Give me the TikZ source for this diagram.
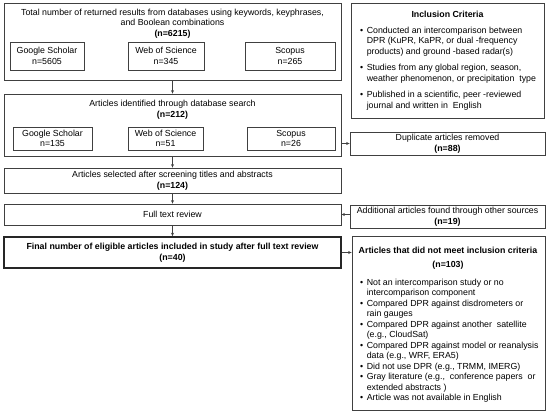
\documentclass[tikz,border=0pt]{standalone}
\usepackage{fontspec}
\setmainfont{Liberation Sans}
\usetikzlibrary{arrows.meta}
\begin{document}
\begin{tikzpicture}[x=1pt,y=-1pt,
  every node/.style={font=\fontsize{8.8}{10.6}\selectfont, inner sep=0pt, text=black},
  box/.style={draw=black!75, line width=0.8pt},
  sbox/.style={box, align=center, minimum height=23pt},
  thickbox/.style={draw=black!85, line width=1.6pt},
  arr/.style={-{Stealth[length=3.5pt,width=3pt]}, line width=0.6pt, draw=black!75}]
\useasboundingbox (0,0) rectangle (550,415);
% left column
\node[box, minimum width=337pt, minimum height=77pt] (b1) at (172.5,41.5) {};
\node[align=center] (t1) at (172.5,23.5) {Total number of returned results from databases using keywords, keyphrases,\\ and Boolean combinations\\ \textbf{(n=6215)}};
\node[sbox, minimum width=74pt, minimum height=28pt] (gs1) at (47,56) {Google Scholar\\ n=5605};
\node[sbox, minimum width=76pt, minimum height=28pt] (wos1) at (166,56) {Web of Science\\ n=345};
\node[sbox, minimum width=90pt, minimum height=28pt] (sc1) at (290,56) {Scopus\\ n=265};

\node[box, minimum width=337pt, minimum height=62pt] (b2) at (172.5,125) {};
\node[align=center] (t2) at (172.5,110) {Articles identified through database search\\ \textbf{(n=212)}};
\node[sbox, minimum width=79pt] (gs2) at (52.5,138.5) {Google Scholar\\ n=135};
\node[sbox, minimum width=75pt] (wos2) at (165.5,138.5) {Web of Science\\ n=51};
\node[sbox, minimum width=88pt] (sc2) at (291,138.5) {Scopus\\ n=26};

\node[box, align=center, minimum width=337pt, minimum height=25pt] (b3) at (172.5,180.5) {Articles selected after screening titles and abstracts\\ \textbf{(n=124)}};
\node[box, align=center, minimum width=337pt, minimum height=21pt] (full) at (172.5,214.5) {Full text review};
\node[thickbox, align=center, minimum width=337pt, minimum height=31pt] (final) at (172.5,252.5) {\textbf{Final number of eligible articles included in study after full text review}\\ \textbf{(n=40)}};

% right column
\node[box, minimum width=193pt, minimum height=115pt] (incl) at (447.5,60.5) {};
\node (inclt) at (447.5,14) {\textbf{Inclusion Criteria}};
\node[anchor=base west] (incll) at (360,33) {\fontsize{8.8}{10.7}\selectfont\begin{tabular}[t]{@{}l@{\hspace{3.5pt}}l@{}}
\textbullet & Conducted an intercomparison between\\
 & DPR (KuPR, KaPR, or dual -frequency\\
 & products) and ground -based radar(s)\\[5.5pt]
\textbullet & Studies from any global region, season,\\
 & weather phenomenon, or precipitation\ \ type\\[5.5pt]
\textbullet & Published in a scientific, peer -reviewed\\
 & journal and written in\ \ English
\end{tabular}};

\node[box, align=center, minimum width=195pt, minimum height=23pt] (dup) at (447.5,143.5) {Duplicate articles removed\\ \textbf{(n=88)}};
\node[box, align=center, minimum width=195pt, minimum height=23pt] (add) at (447.5,216.5) {Additional articles found through other sources\\ \textbf{(n=19)}};

\node[box, minimum width=193pt, minimum height=174pt] (excl) at (448.5,323) {};
\node (exclt) at (448,250) {\textbf{Articles that did not meet inclusion criteria}};
\node (excln) at (448,265) {\textbf{(n=103)}};
\node[anchor=base west] (excll) at (360,285) {\fontsize{8.8}{10.5}\selectfont\begin{tabular}[t]{@{}l@{\hspace{3.5pt}}l@{}}
\textbullet & Not an intercomparison study or no\\
 & intercomparison component\\
\textbullet & Compared DPR against disdrometers or\\
 & rain gauges\\
\textbullet & Compared DPR against another\ \ satellite\\
 & (e.g., CloudSat)\\
\textbullet & Compared DPR against model or reanalysis\\
 & data (e.g., WRF, ERA5)\\
\textbullet & Did not use DPR (e.g., TRMM, IMERG)\\
\textbullet & Gray literature (e.g.,\ \ conference papers\ \ or\\
 & extended abstracts )\\
\textbullet & Article was not available in English
\end{tabular}};

% connectors
\draw[arr] (b1.south) -- (b2.north);
\draw[arr] (b2.south) -- (b3.north);
\draw[arr] (b3.south) -- (full.north);
\draw[arr] (full.south) -- (final.north);
\draw[arr] (dup.west -| b2.east) -- (dup.west);
\draw[arr] (full.east -| add.west) -- (full.east);
\draw[arr] (final.east) -- (final.east -| excl.west);
\end{tikzpicture}
\end{document}
